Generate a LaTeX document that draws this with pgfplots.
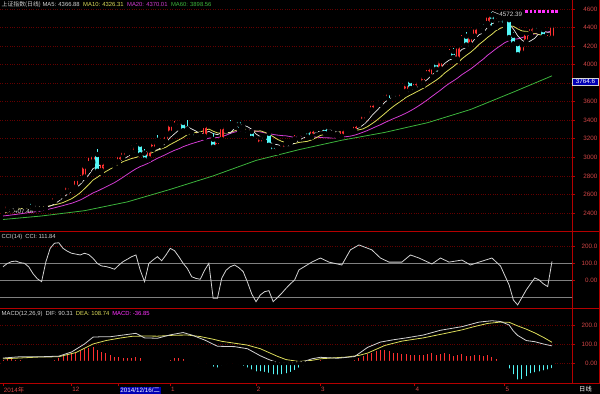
\documentclass[border=0pt]{standalone}
\usepackage{pgfplots}
\pgfplotsset{compat=1.18}
\usepackage{pgfplotstable}
\usepackage{fontspec}
\setmainfont{Liberation Sans}
\newfontfamily\cjk{Noto Sans CJK SC}
\newcommand\ff{\fontsize{6.3}{7}\selectfont}
\newcommand\tf{\fontsize{5.9}{7}\selectfont}
\definecolor{cRed}{HTML}{FF3030}
\definecolor{cCyan}{HTML}{54F8F8}
\definecolor{cMA5}{HTML}{E6E6E6}
\definecolor{cMA10}{HTML}{DCDC5A}
\definecolor{cMA20}{HTML}{D23CD2}
\definecolor{cMA60}{HTML}{3CB43C}
\definecolor{cAx}{HTML}{B40000}
\definecolor{cGrid}{HTML}{640000}
\definecolor{cLab}{HTML}{D24646}
\definecolor{cTxt}{HTML}{D2D2D2}
\definecolor{cBlue}{HTML}{0000B4}
\definecolor{cMag}{HTML}{FF32FF}
\definecolor{cLvl}{HTML}{808080}
\setlength{\fboxsep}{0.8bp}

\pgfplotstableread{
i o h l c
0 2425 2432 2407 2418
1 2432 2477 2430 2473
2 2479 2500 2426 2470
3 2463 2495 2450 2494
4 2493 2502 2475 2485
5 2484 2490 2465 2478
6 2510 2512 2470 2474
7 2473 2476 2451 2456
8 2446 2456 2437 2451
9 2446 2458 2440 2452
10 2450 2490 2444 2486
11 2520 2542 2513 2532
12 2527 2569 2521 2567
13 2567 2605 2562 2604
14 2603 2638 2580 2630
15 2627 2683 2624 2682
16 2668 2697 2646 2680
17 2677 2763 2655 2763
18 2762 2810 2747 2779
19 2784 2899 2782 2899
20 2905 2990 2860 2937
21 2950 3020 2940 3020
22 3025 3091 2834 2856
23 2852 2942 2830 2940
24 2935 2954 2899 2925
25 2925 2953 2911 2938
26 2927 2953 2902 2953
27 2950 3022 2941 3021
28 3002 3063 2989 3061
29 3070 3080 3040 3057
30 3059 3133 3039 3108
31 3114 3158 3073 3127
32 3137 3139 3025 3032
33 3040 3091 2965 2977
34 2983 3075 2970 3072
35 3087 3158 3082 3157
36 3178 3239 3146 3168
37 3158 3190 3120 3165
38 3173 3239 3159 3234
39 3258 3369 3253 3350
40 3330 3394 3303 3352
41 3327 3374 3312 3373
42 3371 3381 3285 3293
43 3300 3404 3267 3285
44 3258 3282 3191 3229
45 3223 3260 3208 3235
46 3242 3268 3209 3222
47 3224 3337 3207 3336
48 3343 3400 3340 3376
49 3189 3262 3095 3116
50 3114 3190 3100 3173
51 3189 3337 3180 3323
52 3327 3352 3285 3343
53 3357 3406 3327 3351
54 3355 3389 3331 3383
55 3394 3396 3296 3352
56 3325 3353 3293 3305
57 3276 3288 3238 3263
58 3273 3288 3203 3210
59 3148 3174 3126 3130
60 3142 3207 3131 3204
61 3212 3237 3171 3174
62 3254 3256 3129 3136
63 3120 3142 3052 3076
64 3068 3108 3049 3095
65 3090 3142 3081 3141
66 3145 3161 3136 3157
67 3153 3176 3145 3173
68 3186 3237 3180 3203
69 3206 3247 3202 3247
70 3253 3274 3241 3269
71 3277 3279 3222 3228
72 3226 3300 3215 3298
73 3299 3324 3292 3310
74 3332 3345 3306 3336
75 3317 3319 3260 3263
76 3264 3286 3250 3280
77 3264 3282 3237 3248
78 3248 3265 3221 3241
79 3224 3307 3223 3302
80 3294 3301 3280 3286
81 3282 3308 3276 3290
82 3283 3371 3281 3350
83 3359 3385 3346 3373
84 3391 3450 3388 3449
85 3469 3503 3443 3503
86 3510 3577 3502 3577
87 3577 3600 3558 3582
88 3587 3632 3569 3617
89 3640 3688 3632 3688
90 3698 3715 3614 3691
91 3678 3693 3632 3661
92 3640 3687 3618 3682
93 3686 3708 3651 3691
94 3710 3795 3702 3786
95 3822 3835 3723 3748
96 3748 3817 3742 3810
97 3830 3837 3782 3825
98 3803 3866 3772 3864
99 3899 3961 3897 3961
100 3971 4000 3871 3995
101 4015 4017 3900 3957
102 3950 4035 3947 4034
103 4097 4128 4062 4121
104 4121 4168 4092 4135
105 4136 4175 4075 4084
106 4056 4194 4040 4194
107 4254 4317 4226 4287
108 4301 4356 4198 4217
109 4212 4294 4183 4293
110 4304 4398 4301 4398
111 4413 4444 4378 4414
112 4400 4437 4353 4394
113 4441 4529 4421 4527
114 4527 4572 4397 4476
115 4441 4499 4398 4476
116 4483 4507 4435 4441
117 4456 4488 4412 4480
118 4479 4489 4282 4298
119 4311 4356 4202 4229
120 4221 4232 4101 4112
121 4123 4205 4115 4205
122 4241 4334 4238 4333
123 4335 4401 4327 4401
124 4406 4415 4363 4375
125 4388 4396 4355 4378
126 4371 4372 4298 4308
127 4276 4318 4263 4283
128 4284 4418 4270 4417
}\candles

\pgfplotstableread{
i a b d
0 2424 2393 2368
1 2433 2412 2373
2 2441 2425 2379
3 2456 2437 2385
4 2468 2446 2391
5 2480 2452 2398
6 2480 2457 2404
7 2477 2459 2410
8 2469 2462 2416
9 2462 2465 2423
10 2464 2472 2433
11 2475 2478 2445
12 2498 2488 2456
13 2528 2499 2468
14 2564 2513 2480
15 2603 2533 2493
16 2633 2554 2505
17 2672 2585 2522
18 2707 2618 2540
19 2761 2662 2564
20 2812 2707 2590
21 2880 2756 2617
22 2898 2785 2636
23 2930 2819 2659
24 2936 2848 2681
25 2936 2874 2704
26 2922 2901 2728
27 2955 2927 2756
28 2980 2955 2786
29 3006 2971 2817
30 3040 2988 2848
31 3075 2999 2877
32 3077 3016 2901
33 3060 3020 2919
34 3063 3035 2941
35 3073 3057 2965
36 3081 3078 2990
37 3108 3092 3010
38 3159 3110 3032
39 3215 3139 3055
40 3254 3163 3076
41 3295 3188 3093
42 3320 3214 3115
43 3331 3245 3132
44 3306 3261 3148
45 3283 3268 3162
46 3253 3274 3176
47 3261 3291 3192
48 3280 3305 3207
49 3257 3282 3210
50 3245 3264 3214
51 3265 3259 3223
52 3266 3264 3239
53 3261 3270 3258
54 3315 3286 3273
55 3350 3298 3283
56 3347 3306 3290
57 3331 3299 3295
58 3303 3282 3294
59 3252 3283 3282
60 3222 3286 3275
61 3196 3271 3265
62 3170 3251 3257
63 3144 3223 3247
64 3137 3194 3240
65 3124 3173 3235
66 3121 3158 3232
67 3128 3149 3224
68 3154 3149 3215
69 3184 3161 3222
70 3210 3167 3227
71 3224 3173 3222
72 3249 3189 3220
73 3270 3212 3218
74 3288 3236 3215
75 3287 3248 3211
76 3297 3261 3210
77 3287 3268 3209
78 3274 3272 3210
79 3267 3278 3219
80 3271 3279 3223
81 3273 3285 3229
82 3294 3291 3240
83 3320 3297 3255
84 3350 3308 3272
85 3393 3332 3290
86 3450 3362 3311
87 3497 3395 3332
88 3546 3433 3352
89 3593 3472 3375
90 3631 3512 3396
91 3648 3549 3417
92 3668 3582 3436
93 3683 3614 3456
94 3702 3648 3478
95 3714 3672 3502
96 3743 3696 3529
97 3772 3720 3558
98 3807 3745 3589
99 3842 3772 3622
100 3891 3802 3657
101 3920 3832 3691
102 3962 3867 3725
103 4014 3910 3762
104 4048 3945 3796
105 4066 3979 3825
106 4114 4017 3856
107 4164 4063 3892
108 4183 4099 3922
109 4215 4132 3952
110 4278 4172 3987
111 4322 4218 4025
112 4343 4254 4060
113 4405 4294 4102
114 4442 4328 4137
115 4457 4368 4173
116 4463 4392 4205
117 4480 4412 4237
118 4434 4420 4259
119 4385 4413 4273
120 4312 4385 4278
121 4265 4364 4291
122 4235 4358 4306
123 4256 4345 4320
124 4285 4335 4332
125 4338 4325 4346
126 4359 4312 4352
127 4349 4292 4352
128 4352 4304 4362
}\mas

\pgfplotstableread{
i v
0 2330
9 2368
19 2425
29 2520
39 2655
49 2800
59 2967
69 3083
79 3185
89 3269
99 3374
109 3516
119 3704
128 3879
}\maSixty

\pgfplotstableread{
i v
0 81
1 100
2 111
3 114
4 105
5 101
6 80
7 40
8 10
9 -7
10 110
11 189
12 219
13 222
14 189
15 172
16 160
17 155
18 150
19 160
20 152
21 130
22 100
23 85
24 82
25 75
26 66
27 90
28 111
29 125
30 140
31 150
32 60
33 -7
34 100
35 121
36 140
37 116
38 150
39 189
40 175
41 140
42 101
43 70
44 22
45 12
46 7
47 60
48 101
49 -105
50 -105
51 13
52 60
53 81
54 91
55 75
56 52
57 -10
58 -80
59 -125
60 -85
61 -66
62 -60
63 -125
64 -100
65 -75
66 -46
67 -20
68 3
69 62
72 108
74 132
76 108
79 91
81 180
83 209
86 180
88 132
90 108
93 108
95 150
97 132
100 97
102 132
104 108
107 120
109 91
111 108
114 132
116 85
118 -26
119 -115
120 -144
121 -100
122 -56
123 -20
124 15
125 3
126 -20
127 -36
128 112
}\cci

\pgfplotstableread{
i v
0 26
4 33
9 33
13 36
16 58
19 100
21 136
23 138
25 138
28 147
31 156
33 132
36 130
39 148
42 160
44 147
47 121
50 88
54 86
57 75
60 38
62 18
64 2
67 0
70 7
72 22
74 30
78 25
82 34
85 82
88 110
91 122
94 132
98 147
102 172
107 191
111 215
114 222
116 218
118 200
119 168
120 145
122 118
124 112
126 100
128 90
}\dif

\pgfplotstableread{
i v
0 22
8 31
13 33
17 55
21 100
24 118
27 130
30 140
33 142
36 141
40 146
43 147
46 139
49 125
51 114
54 104
57 94
60 75
62 55
64 35
66 18
69 8
72 14
74 22
77 27
80 31
83 40
85 52
89 92
93 115
98 132
103 155
107 174
110 192
113 208
116 215
118 214
120 195
122 178
124 158
126 135
128 109
}\dea

\pgfplotstableread{
i m
0 18
1 20
2 20
3 18
4 16
5 12
6 10
7 8
8 6
9 4
10 5
11 10
12 18
13 25
14 35
15 45
16 50
17 55
18 62
19 72
20 80
21 86
22 70
23 60
24 50
25 40
26 33
27 30
28 28
29 27
30 28
31 30
32 25
33 8
34 -5
35 -8
36 -6
37 -3
38 2
39 15
40 25
41 28
42 20
43 10
44 -5
45 -12
46 -18
47 -15
48 -10
49 -30
50 -35
51 -22
52 -18
53 -15
54 -12
55 -18
56 -25
57 -35
58 -45
59 -55
60 -55
61 -58
62 -62
63 -70
64 -72
65 -70
66 -65
67 -58
68 -48
69 -35
70 -22
71 -15
72 -2
73 8
74 15
75 12
76 10
77 6
78 4
79 8
80 8
81 10
82 18
83 25
84 35
85 45
86 55
87 62
88 68
89 70
90 65
91 55
92 50
93 45
94 48
95 40
96 40
97 40
98 42
99 48
100 50
101 42
102 45
103 50
104 48
105 38
106 42
107 48
108 38
109 38
110 42
111 42
112 38
113 42
114 30
115 20
116 10
117 5
118 -40
119 -70
120 -98
121 -95
122 -80
123 -65
124 -60
125 -55
126 -50
127 -45
128 -37
}\macd

\pgfplotsset{
  panel/.style={scale only axis, width=572bp, xmin=-0.7, xmax=132.67,
    axis y line*=right,
    axis line style={draw=cAx, line width=0.9bp},
    ytick style={draw=cAx, line width=0.8bp},
    xtick style={draw=cAx, line width=0.8bp},
    tick align=outside, major tick length=3bp,
    yticklabel style={font=\ff, text=cLab, anchor=east, xshift=22.5bp, inner sep=0pt},
    ymajorgrids, grid style={draw=cGrid, dotted, line width=0.7bp},
    scaled y ticks=false, clip=true},
  wick/.style={only marks, mark=none, forget plot,
    error bars/.cd, y dir=plus, y explicit, error mark=none,
    error bar style={draw=#1, line width=0.9bp, solid}},
  body/.style={only marks, mark=none, forget plot,
    error bars/.cd, y dir=plus, y explicit, error mark=none,
    error bar style={draw=#1, line width=4bp, solid}},
  hbar/.style={only marks, mark=none, forget plot,
    error bars/.cd, y dir=plus, y explicit, error mark=none,
    error bar style={draw=#1, line width=1bp, solid}},
}

\begin{document}
\begin{tikzpicture}
\fill[black] (0bp,0bp) rectangle (600bp,394bp);
\useasboundingbox (0bp,0bp) rectangle (600bp,394bp);

% ---------------- main price panel
\begin{axis}[panel, axis x line=none, at={(0bp,163bp)}, anchor=south west, height=231bp,
  ymin=2206, ymax=4697, ytick={2400,2600,...,4600},
  yticklabels={2400,2600,2800,3000,3200,3400,3600,,4000,4200,4400,4600}]
  % moving averages (under the candles)
  \addplot[cMA60, line width=0.8bp] table[x=i, y=v] {\maSixty};
  \addplot[cMA20, line width=0.8bp] table[x=i, y=d] {\mas};
  \addplot[cMA10, line width=0.8bp] table[x=i, y=b] {\mas};
  \addplot[cMA5, line width=0.7bp] table[x=i, y=a] {\mas};
  % wicks
  \addplot[wick=cRed] table[x=i, y=l, y error plus expr={(\thisrow{c}>\thisrow{o})*(\thisrow{h}-\thisrow{l})}] {\candles};
  \addplot[wick=cCyan] table[x=i, y=l, y error plus expr={(\thisrow{c}<\thisrow{o})*(\thisrow{h}-\thisrow{l})}] {\candles};
  % red hollow bodies
  \addplot[body=cRed] table[x=i, y=o, y error plus expr={max(\thisrow{c}-\thisrow{o},0)}] {\candles};
  \addplot[only marks, mark=none, forget plot, error bars/.cd, y dir=plus, y explicit, error mark=none,
    error bar style={draw=black, line width=1.2bp, solid}]
    table[x=i, y expr={\thisrow{o}+10.5}, y error plus expr={max(\thisrow{c}-\thisrow{o}-21,0)}] {\candles};
  % cyan filled bodies
  \addplot[body=cCyan] table[x=i, y=c, y error plus expr={max(\thisrow{o}-\thisrow{c},0)}] {\candles};
  % marker row at top right
  \addplot[only marks, mark=square*, mark size=0.8bp, cMag] coordinates {(122,4578) (123,4578) (124,4578) (125,4578) (126,4578) (127,4578) (128,4578) (129,4578)};
  % annotations
  \draw[cTxt, line width=0.5bp] (axis cs:114,4576) -- (axis cs:115.6,4545);
  \node[anchor=west, inner sep=0.5bp, font=\ff, text=cTxt] at (axis cs:115.6,4545) {4572.39};
  \draw[cTxt, line width=0.5bp] (axis cs:0,2407) -- (axis cs:1.6,2414);
  \node[anchor=west, inner sep=0.5bp, font=\ff, text=cTxt] at (axis cs:1.6,2414) {2407.44};
\end{axis}

% ---------------- CCI panel
\begin{axis}[panel, axis x line=none, at={(0bp,86bp)}, anchor=south west, height=77bp,
  ymin=-162, ymax=291, ytick={0,100,200}, yticklabels={0.00,100.0,200.0}]
  \addplot[cLvl, line width=0.7bp, forget plot] coordinates {(-1,100) (140,100)};
  \addplot[cLvl, line width=0.7bp, forget plot] coordinates {(-1,0) (140,0)};
  \addplot[cLvl, line width=0.7bp, forget plot] coordinates {(-1,-100) (140,-100)};
  \addplot[cTxt, line width=0.8bp] table[x=i, y=v] {\cci};
\end{axis}

% ---------------- MACD panel
\begin{axis}[panel, at={(0bp,11bp)}, anchor=south west, height=75bp,
  ymin=-105, ymax=289, ytick={0,100,200}, yticklabels={0.00,100.0,200.0},
  axis x line*=bottom,
  xtick={0,16,27,39,59,74,96,117},
  xticklabels={{2014{\cjk 年}},12,{\colorbox{cBlue}{\textcolor{white}{2014/12/16/{\cjk 二}}}},1,2,3,4,5},
  xticklabel style={font=\ff, text=cLab, anchor=north west, inner sep=0pt, yshift=-1.2bp, xshift=0.6bp}]
  \addplot[hbar=cRed] table[x=i, y expr=0, y error plus expr={max(\thisrow{m},0)}] {\macd};
  \addplot[hbar=cCyan] table[x=i, y expr={min(\thisrow{m},0)}, y error plus expr={max(-\thisrow{m},0)}] {\macd};
  \addplot[cMA10, line width=0.8bp] table[x=i, y=v] {\dea};
  \addplot[cTxt, line width=0.8bp] table[x=i, y=v] {\dif};
\end{axis}

% frame lines
\draw[cAx, line width=0.9bp] (0bp,163bp) -- (600bp,163bp);
\draw[cAx, line width=0.9bp] (0bp,86bp) -- (600bp,86bp);
\draw[cAx, line width=0.9bp] (0bp,11bp) -- (600bp,11bp);
\draw[cAx, line width=0.9bp] (572bp,11bp) rectangle (599bp,86bp);
\draw[cAx, line width=0.6bp] (599.5bp,86bp) -- (599.5bp,394bp);

% value box on the price scale
\node[fill=cBlue, draw=cTxt, line width=0.4bp, text=white, font=\ff, inner sep=0.8bp,
  minimum width=26bp, minimum height=7.5bp] at (585.5bp,312.5bp) {3764.6};

% titles
\node[anchor=west, inner sep=0pt, font=\tf] at (1.5bp,389bp)
 {\textcolor{cTxt}{{\cjk 上证指数(日线)} MA5: 4366.88}\hspace{3.5bp}\textcolor{cMA10}{MA10: 4326.31}\hspace{3.5bp}\textcolor{cMA20}{MA20: 4370.01}\hspace{3.5bp}\textcolor{cMA60}{MA60: 3898.56}};
\node[anchor=west, inner sep=0pt, font=\tf, text=cTxt] at (1.5bp,157bp) {CCI(14)\hspace{3bp}CCI: 111.84};
\node[anchor=west, inner sep=0pt, font=\tf] at (1.5bp,80bp)
 {\textcolor{cTxt}{MACD(12,26,9)\hspace{3bp}DIF: 90.31}\hspace{3bp}\textcolor{cMA10}{DEA: 108.74}\hspace{3bp}\textcolor{cMag}{MACD: -36.85}};
\node[anchor=center, inner sep=0pt, font=\ff, text=white] at (585.5bp,5bp) {\cjk 日线};
\end{tikzpicture}
\end{document}
